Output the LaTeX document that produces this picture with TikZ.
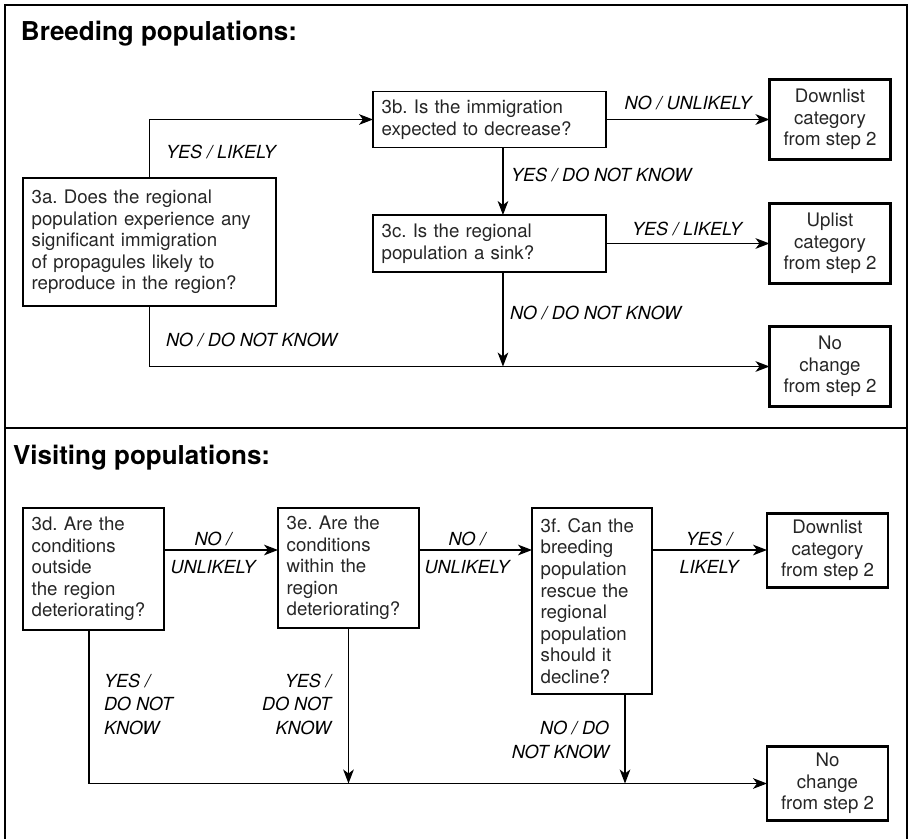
\documentclass[tikz,border=0pt]{standalone}
\usepackage{fontspec}
\setmainfont{TeX Gyre Heros}
\usetikzlibrary{arrows.meta,calc}
\frenchspacing
\begin{document}
\begin{tikzpicture}[x=0.75pt,y=-0.75pt,
  every node/.style={inner sep=0pt, outer sep=0pt},
  qbox/.style={draw, line width=0.9pt, rectangle, inner xsep=6.5pt, inner ysep=2pt,
    align=left, text=black!85, font=\fontsize{14}{16.2}\selectfont, anchor=center},
  rbox/.style={draw, line width=2.2pt, rectangle, align=center, minimum width=90.75pt,
    minimum height=60pt, text=black!85, font=\fontsize{14}{16}\selectfont, anchor=center},
  lbl/.style={font=\fontsize{13.5}{17.6}\selectfont\itshape},
  ttl/.style={font=\fontsize{19.5}{22}\selectfont\bfseries, anchor=base west},
  ln/.style={line width=0.9pt},
  arr/.style={line width=0.9pt, -{Stealth[length=10.5pt,width=8pt,inset=3pt]}}
]
\useasboundingbox (0,0) rectangle (911,839);

% frame
\draw[line width=1.6pt] (5,839) -- (5,5) -- (907,5) -- (907,839);
\draw[line width=1.6pt] (5,428) -- (907,428);

% titles
\node[ttl] (t1) at (21,40) {Breeding populations:};
\node[ttl] (t2) at (13,464) {Visiting populations:};

% ---------- Breeding ----------
\node[qbox, text width=176.75pt, minimum height=96pt] (qa) at (149.5,242)
  {3a. Does the regional\\population experience any\\significant immigration\\of propagules likely to\\reproduce in the region?};
\node[qbox, text width=161.75pt, minimum height=42pt] (qb) at (489.5,119.5)
  {3b. Is the immigration\\expected to decrease?};
\node[qbox, text width=161.75pt, minimum height=42.75pt] (qc) at (489.5,243.5)
  {3c. Is the regional\\population a sink?};
\node[rbox] (dl1) at (830,119.5) {Downlist\\category\\from step 2};
\node[rbox] (ul1) at (830,243.5) {Uplist\\category\\from step 2};
\node[rbox] (nc1) at (830,366.5) {No\\change\\from step 2};

\draw[arr] (qa.north) |- (qb.west);
\draw[arr] (qb.east) -- (dl1.west);
\draw[arr] ([xshift=10.1pt]qb.south) -- ([xshift=10.1pt]qc.north);
\draw[arr] (qc.east) -- (ul1.west);
\coordinate (j1) at ([xshift=10.1pt]qc.south |- nc1.west);
\draw[arr] ([xshift=10.1pt]qc.south) -- (j1);
\draw[arr] (qa.south) |- (nc1.west);

\node[lbl, anchor=base west] (l1) at (166,158) {YES / LIKELY};
\node[lbl, anchor=base] (l2) at (688,109) {NO / UNLIKELY};
\node[lbl, anchor=base west] (l3) at (511,181) {YES / DO NOT KNOW};
\node[lbl, anchor=base] (l4) at (687,235) {YES / LIKELY};
\node[lbl, anchor=base west] (l5) at (510,319) {NO / DO NOT KNOW};
\node[lbl, anchor=base west] (l6) at (166,346) {NO / DO NOT KNOW};

% ---------- Visiting ----------
\node[qbox, text width=92.75pt, minimum height=91.5pt] (qd) at (93.5,569)
  {3d. Are the\\conditions\\outside\\the region\\deteriorating?};
\node[qbox, text width=92.75pt, minimum height=90pt] (qe) at (348.5,568)
  {3e. Are the\\conditions\\within the\\region\\deteriorating?};
\node[qbox, text width=77pt, minimum height=139.5pt] (qf) at (592,601)
  {3f. Can the\\breeding\\population\\rescue the\\regional\\population\\should it\\decline?};
\node[rbox, minimum height=55.5pt] (dl2) at (827.5,550.5) {Downlist\\category\\from step 2};
\node[rbox, minimum height=56pt] (nc2) at (827.5,783.5) {No\\change\\from step 2};

\coordinate (r1) at (0,550);
\coordinate (cd) at (89,0);
\coordinate (cf) at (625,0);
\draw[arr] (qd.east |- r1) -- (qe.west |- r1);
\draw[arr] (qe.east |- r1) -- (qf.west |- r1);
\draw[arr] (qf.east |- r1) -- (dl2.west |- r1);
\draw[arr] (qd.south -| cd) |- (nc2.west);
\draw[arr] (qe.south) -- (qe.south |- nc2.west);
\draw[arr] (qf.south -| cf) -- (cf |- nc2.west);

\node[lbl, anchor=base] (m1) at (213,545) {NO /};
\node[lbl, anchor=base] (m2) at (213,573) {UNLIKELY};
\node[lbl, anchor=base] (m3) at (467,545) {NO /};
\node[lbl, anchor=base] (m4) at (467,573) {UNLIKELY};
\node[lbl, anchor=base] (m5) at (709,545) {YES /};
\node[lbl, anchor=base] (m6) at (709,573) {LIKELY};
\node[lbl, align=left, anchor=west] (m7) at (104,704) {YES /\\DO NOT\\KNOW};
\node[lbl, align=right, anchor=east] (m8) at (331,704) {YES /\\DO NOT\\KNOW};
\node[lbl, align=right, anchor=east] (m9) at (609,740) {NO / DO\\NOT KNOW};
\end{tikzpicture}
\end{document}
